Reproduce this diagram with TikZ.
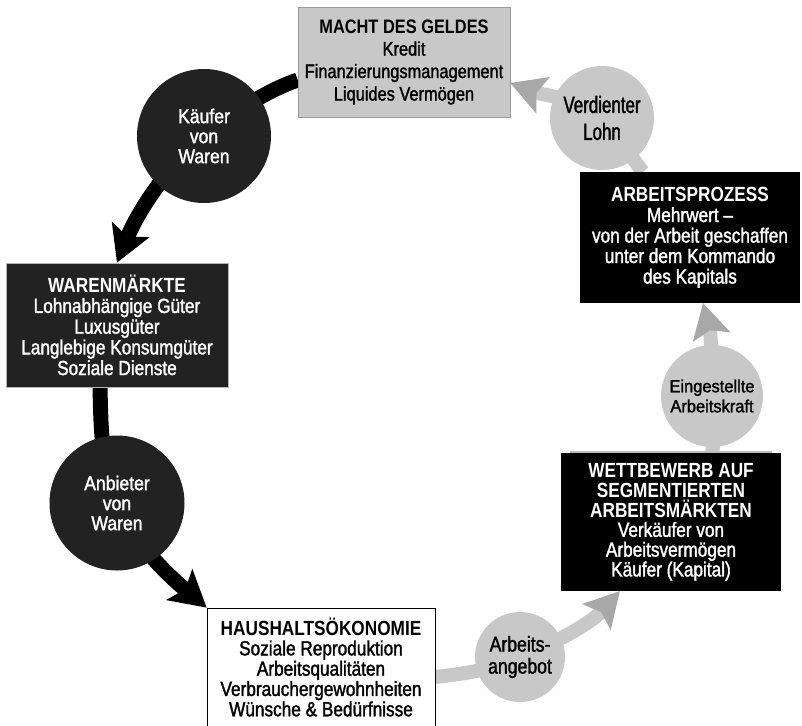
\documentclass[tikz,border=0pt]{standalone}
\usepackage{fontspec}
\setmainfont{Liberation Sans}[UprightFeatures={FakeBold=1.5}]
\newfontfamily\fBox{Liberation Sans}[FakeStretch=0.84,UprightFeatures={FakeBold=1.5}]
\newfontfamily\fMacht{Liberation Sans}[FakeStretch=0.84,UprightFeatures={FakeBold=1.5}]
\newfontfamily\fCirc{Liberation Sans}[FakeStretch=0.88,UprightFeatures={FakeBold=1.5}]
\newfontfamily\fEin{Liberation Sans}[FakeStretch=0.94,UprightFeatures={FakeBold=1.5}]
\newfontfamily\fVerd{Liberation Sans}[FakeStretch=0.72,UprightFeatures={FakeBold=1.5}]
\newfontfamily\fAng{Liberation Sans}[FakeStretch=0.82,UprightFeatures={FakeBold=1.5}]
\usetikzlibrary{arrows.meta,calc}
\pgfdeclarelayer{bg}
\pgfsetlayers{bg,main}
\definecolor{cDark}{HTML}{222222}
\definecolor{cLight}{HTML}{C8C8C8}
\definecolor{cHead}{HTML}{A8A8A8}
\definecolor{cMachtBorder}{HTML}{9A9A9A}
\definecolor{cWarenBorder}{HTML}{B5B5B5}
\definecolor{cTopLine}{HTML}{BBBBBB}
\tikzset{
  box/.style={rectangle, inner sep=0pt, align=center, font=\fBox\fontsize{20.5}{20.5}\selectfont},
  dcirc/.style={circle, fill=cDark, inner sep=0pt, text=white, align=center, font=\fCirc\fontsize{20}{20}\selectfont},
  gcirc/.style={circle, fill=cLight, inner sep=0pt, align=center},
  barrow/.style={line width=15pt, draw=black, -{Stealth[length=36pt,width=41pt,inset=8pt,line width=0pt]}},
  garrow/.style={line width=14pt, draw=cLight, -{Stealth[length=35pt,width=39pt,inset=7pt,line width=0pt,color=cHead]}}
}
\begin{document}
\begin{tikzpicture}[x=1pt,y=-1pt]
\useasboundingbox (0,0) rectangle (802,725);
% boxes
\node[box, fill=cLight, draw=cMachtBorder, line width=0.6pt, minimum width=212pt, minimum height=110pt,
      font=\fMacht\fontsize{19.5}{22.5}\selectfont] (macht) at (404,62)
  {\textbf{MACHT DES GELDES}\\Kredit\\Finanzierungsmanagement\\Liquides Vermögen};
\node[box, fill=cDark, draw=cWarenBorder, line width=0.8pt, text=white, minimum width=222pt, minimum height=124pt,
      font=\fBox\fontsize{20.5}{20.7}\selectfont] (waren) at (117,325)
  {\textbf{WARENMÄRKTE}\\Lohnabhängige Güter\\Luxusgüter\\Langlebige Konsumgüter\\Soziale Dienste};
\node[box, fill=black, text=white, minimum width=220pt, minimum height=131pt,
      font=\fBox\fontsize{20.5}{20.5}\selectfont] (arbeit) at (690,237.5)
  {\textbf{ARBEITSPROZESS}\\Mehrwert –\\von der Arbeit geschaffen\\unter dem Kommando\\des Kapitals};
% circles
\node[dcirc, minimum size=134pt] (kaeufer) at (204,136) {Käufer\\von\\Waren};
\node[dcirc, minimum size=135pt] (anbieter) at (117,503) {Anbieter\\von\\Waren};
\node[gcirc, minimum size=104pt, font=\fVerd\fontsize{23.5}{27}\selectfont] (verdient) at (602,118) {Verdienter\\Lohn};
\node[gcirc, minimum size=102pt, font=\fEin\fontsize{17.5}{20}\selectfont] (eingest) at (712,396) {Eingestellte\\Arbeitskraft};
\node[gcirc, minimum size=90pt, font=\fAng\fontsize{21.5}{22}\selectfont] (angebot) at (520,657) {Arbeits-\\angebot};
\node[box, fill=black, text=white, minimum width=220pt, minimum height=138pt,
      font=\fBox\fontsize{20.5}{19.8}\selectfont] (wettb) at (671,522)
  {\textbf{WETTBEWERB AUF}\\\textbf{SEGMENTIERTEN}\\\textbf{ARBEITSMÄRKTEN}\\Verkäufer von\\Arbeitsvermögen\\Käufer (Kapital)};
\node[box, fill=white, draw=black, line width=0.8pt, minimum width=228pt, minimum height=118pt,
      font=\fBox\fontsize{20.5}{20.3}\selectfont] (haus) at (321,667)
  {\textbf{HAUSHALTSÖKONOMIE}\\Soziale Reproduktion\\Arbeitsqualitäten\\Verbrauchergewohnheiten\\Wünsche \& Bedürfnisse};
\draw[cTopLine, line width=1.5pt] ($(wettb.north west)+(9,-1)$) -- ($(wettb.north east)+(-9,-1)$);
% arrows
\begin{pgfonlayer}{bg}
\draw[barrow] ($(macht.west)+(0,18)$) .. controls (263.4,91.8) and (232.4,114) .. (kaeufer.center)
  .. controls (164,169.4) and (136.8,214.5) .. (waren.north);
\draw[barrow] ($(waren.south)+(-17,0)$) .. controls (100.9,426.5) and (101.2,466.8) .. (anbieter.center)
  .. controls (135.7,546) and (171.2,577.7) .. (haus.north west);
\draw[garrow] ($(haus.east)+(0,10)$) .. controls (463.6,673.6) and (491.5,670.2) .. (angebot.center)
  .. controls (555.7,643.1) and (591.5,622.4) .. ($(wettb.south west)+(59,0)$);
\draw[garrow] ($(wettb.north)+(41,0)$) .. controls (716.6,432.2) and (711.4,412) .. (eingest.center)
  .. controls (712.9,365) and (710.2,331.4) .. ($(arbeit.south)+(13,0)$);
\draw[garrow] ($(arbeit.north)+(-47,0)$) .. controls (628.6,155.2) and (619.5,131.5) .. (verdient.center)
  .. controls (576.3,98.2) and (540.5,94.3) .. ($(macht.east)+(0,21)$);
\end{pgfonlayer}
\end{tikzpicture}
\end{document}
